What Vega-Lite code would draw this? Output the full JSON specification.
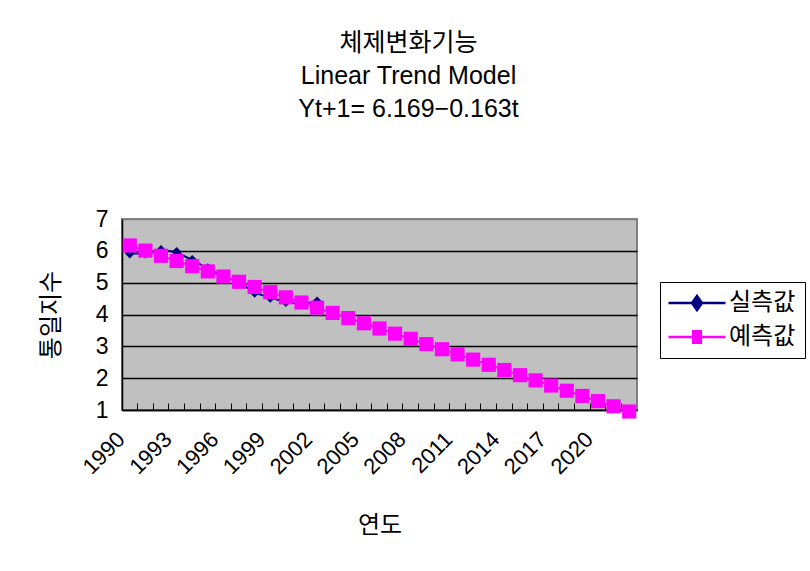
{
  "$schema": "https://vega.github.io/schema/vega-lite/v6.json",
  "width": 515,
  "height": 191,
  "autosize": {"type": "none"},
  "padding": {"left": 122, "top": 219, "right": 173, "bottom": 161},
  "background": "white",
  "config": {
    "font": "Liberation Sans, Noto Sans CJK KR",
    "view": {"fill": "#C0C0C0", "stroke": "#808080", "strokeWidth": 2}
  },
  "title": {
    "text": ["체제변화기능", "Linear Trend Model", "Yt+1= 6.169−0.163t"],
    "fontSize": 25,
    "fontWeight": "normal",
    "lineHeight": 33,
    "color": "black",
    "anchor": "middle",
    "frame": "group",
    "dx": 29,
    "offset": 86
  },
  "data": {
    "values": [
      {"year": 1990, "series": "실측값", "value": 5.92},
      {"year": 1991, "series": "실측값", "value": 5.92},
      {"year": 1992, "series": "실측값", "value": 6.03},
      {"year": 1993, "series": "실측값", "value": 5.96},
      {"year": 1994, "series": "실측값", "value": 5.71},
      {"year": 1995, "series": "실측값", "value": 5.45},
      {"year": 1996, "series": "실측값", "value": 5.2},
      {"year": 1997, "series": "실측값", "value": 5.02},
      {"year": 1998, "series": "실측값", "value": 4.68},
      {"year": 1999, "series": "실측값", "value": 4.53},
      {"year": 2000, "series": "실측값", "value": 4.39},
      {"year": 2001, "series": "실측값", "value": 4.33},
      {"year": 2002, "series": "실측값", "value": 4.41},
      {"year": 1990, "series": "예측값", "value": 6.169},
      {"year": 1991, "series": "예측값", "value": 6.006},
      {"year": 1992, "series": "예측값", "value": 5.843},
      {"year": 1993, "series": "예측값", "value": 5.68},
      {"year": 1994, "series": "예측값", "value": 5.517},
      {"year": 1995, "series": "예측값", "value": 5.354},
      {"year": 1996, "series": "예측값", "value": 5.191},
      {"year": 1997, "series": "예측값", "value": 5.028},
      {"year": 1998, "series": "예측값", "value": 4.865},
      {"year": 1999, "series": "예측값", "value": 4.702},
      {"year": 2000, "series": "예측값", "value": 4.539},
      {"year": 2001, "series": "예측값", "value": 4.376},
      {"year": 2002, "series": "예측값", "value": 4.213},
      {"year": 2003, "series": "예측값", "value": 4.05},
      {"year": 2004, "series": "예측값", "value": 3.887},
      {"year": 2005, "series": "예측값", "value": 3.724},
      {"year": 2006, "series": "예측값", "value": 3.561},
      {"year": 2007, "series": "예측값", "value": 3.398},
      {"year": 2008, "series": "예측값", "value": 3.235},
      {"year": 2009, "series": "예측값", "value": 3.072},
      {"year": 2010, "series": "예측값", "value": 2.909},
      {"year": 2011, "series": "예측값", "value": 2.746},
      {"year": 2012, "series": "예측값", "value": 2.583},
      {"year": 2013, "series": "예측값", "value": 2.42},
      {"year": 2014, "series": "예측값", "value": 2.257},
      {"year": 2015, "series": "예측값", "value": 2.094},
      {"year": 2016, "series": "예측값", "value": 1.931},
      {"year": 2017, "series": "예측값", "value": 1.768},
      {"year": 2018, "series": "예측값", "value": 1.605},
      {"year": 2019, "series": "예측값", "value": 1.442},
      {"year": 2020, "series": "예측값", "value": 1.279},
      {"year": 2021, "series": "예측값", "value": 1.116},
      {"year": 2022, "series": "예측값", "value": 0.953}
    ]
  },
  "encoding": {
    "y": {
      "field": "value", "type": "quantitative",
      "scale": {"domain": [1, 7], "nice": false, "zero": false},
      "axis": {
        "values": [1, 2, 3, 4, 5, 6, 7],
        "ticks": false,
        "domainColor": "black", "domainWidth": 1.5,
        "grid": true,
        "gridColor": {"condition": {"test": "datum.value == 7", "value": "#808080"}, "value": "black"},
        "gridWidth": 1.3,
        "labelFontSize": 23, "labelColor": "black", "labelPadding": 14,
        "title": "통일지수", "titleFontSize": 24, "titleFontWeight": "normal",
        "titleColor": "black", "titlePadding": 32
      }
    }
  },
  "layer": [
    {
      "transform": [{"filter": "datum.series == '실측값'"}],
      "mark": {"type": "line", "color": "#000080", "strokeWidth": 2, "clip": false},
      "encoding": {
        "x": {
          "field": "year", "type": "ordinal",
          "scale": {"type": "band", "paddingInner": 0, "paddingOuter": 0,
                    "domain": [1990,1991,1992,1993,1994,1995,1996,1997,1998,1999,2000,2001,2002,2003,2004,2005,2006,2007,2008,2009,2010,2011,2012,2013,2014,2015,2016,2017,2018,2019,2020,2021,2022]},
          "axis": {
            "orient": "top", "offset": -191, "labels": false, "title": null, "grid": false,
            "ticks": true, "tickSize": 7, "tickColor": "black", "tickWidth": 1,
            "bandPosition": 0,
            "domain": true, "domainColor": "black", "domainWidth": 1.5
          }
        }
      }
    },
    {
      "transform": [{"filter": "datum.series == '실측값'"}],
      "mark": {"type": "point", "shape": "diamond", "filled": true, "color": "#000080", "size": 100, "opacity": 1, "clip": false},
      "encoding": {
        "x": {"field": "year", "type": "ordinal", "axis": null}
      }
    },
    {
      "transform": [{"filter": "datum.series == '예측값'"}],
      "mark": {"type": "line", "color": "#FF00FF", "strokeWidth": 2, "clip": false},
      "encoding": {
        "x": {
          "field": "year", "type": "ordinal",
          "axis": {
            "orient": "bottom",
            "values": [1990, 1993, 1996, 1999, 2002, 2005, 2008, 2011, 2014, 2017, 2020],
            "ticks": false, "domain": false, "grid": false,
            "labelAngle": -45, "labelAlign": "right", "labelBaseline": "bottom",
            "labelFontSize": 22, "labelColor": "black", "labelPadding": 34,
            "title": "연도", "titleFontSize": 24, "titleFontWeight": "normal",
            "titleColor": "black", "titlePadding": 36
          }
        }
      }
    },
    {
      "transform": [{"filter": "datum.series == '예측값'"}],
      "mark": {"type": "point", "shape": "square", "filled": true, "color": "#FF00FF", "size": 200, "opacity": 1, "clip": false},
      "encoding": {
        "x": {"field": "year", "type": "ordinal", "axis": null}
      }
    },
    {
      "transform": [{"filter": "datum.year == 1990"}],
      "mark": {"type": "point", "filled": true, "opacity": 0},
      "encoding": {
        "x": {"field": "year", "type": "ordinal", "axis": null},
        "fill": {
          "field": "series", "type": "nominal",
          "scale": {"domain": ["실측값", "예측값"], "range": ["#000080", "#FF00FF"]},
          "legend": {
            "orient": "none", "legendX": 538, "legendY": 63, "title": null,
            "strokeColor": "black", "fillColor": "white", "padding": 9,
            "labelFontSize": 24, "labelColor": "black", "labelOffset": 20,
            "symbolSize": 400, "symbolStrokeWidth": 2.5, "symbolOpacity": 1,
            "symbolOffset": 16, "rowPadding": 10
          }
        },
        "stroke": {
          "field": "series", "type": "nominal",
          "scale": {"domain": ["실측값", "예측값"], "range": ["#000080", "#FF00FF"]},
          "legend": {
            "orient": "none", "legendX": 538, "legendY": 63, "title": null,
            "strokeColor": "black", "fillColor": "white", "padding": 9,
            "labelFontSize": 24, "labelColor": "black", "labelOffset": 20,
            "symbolSize": 400, "symbolStrokeWidth": 2.5, "symbolOpacity": 1,
            "symbolOffset": 16, "rowPadding": 10
          }
        },
        "shape": {
          "field": "series", "type": "nominal",
          "scale": {"domain": ["실측값", "예측값"],
                    "range": ["M-2.85,0H2.85M0,-0.7L0.5,0L0,0.7L-0.5,0Z", "M-2.85,0H2.85M-0.38,-0.58H0.38V0.58H-0.38Z"]},
          "legend": {
            "orient": "none", "legendX": 538, "legendY": 63, "title": null,
            "strokeColor": "black", "fillColor": "white", "padding": 9,
            "labelFontSize": 24, "labelColor": "black", "labelOffset": 20,
            "symbolSize": 400, "symbolStrokeWidth": 2.5, "symbolOpacity": 1,
            "symbolOffset": 16, "rowPadding": 10
          }
        }
      }
    }
  ],
  "resolve": {"axis": {"x": "independent"}}
}
